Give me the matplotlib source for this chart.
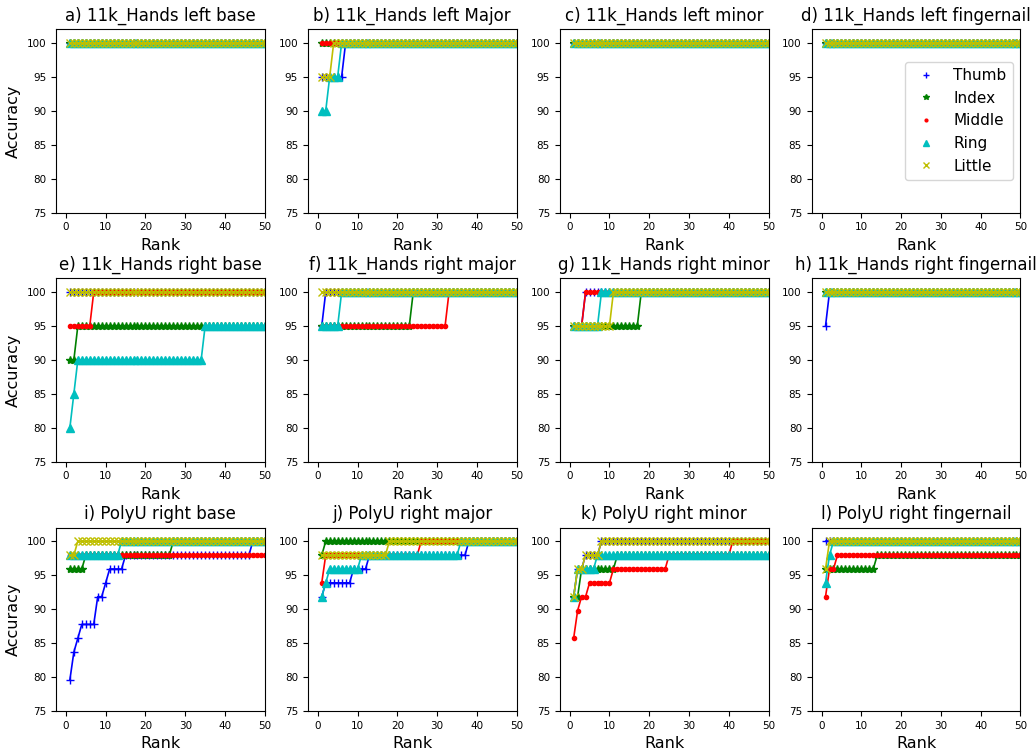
import matplotlib
matplotlib.use("Agg")
import matplotlib.pyplot as plt
from matplotlib.lines import Line2D

N = 50
ranks = list(range(1, N + 1))

fingers = ["Thumb", "Index", "Middle", "Ring", "Little"]
colors = ["b", "g", "r", "c", "y"]
markers = ["+", "*", ".", "^", "x"]

titles = ["a) 11k_Hands left base", "b) 11k_Hands left Major",
          "c) 11k_Hands left minor", "d) 11k_Hands left fingernail",
          "e) 11k_Hands right base", "f) 11k_Hands right major",
          "g) 11k_Hands right minor", "h) 11k_Hands right fingernail",
          "i) PolyU right base", "j) PolyU right major",
          "k) PolyU right minor", "l) PolyU right fingernail"]

# accuracy per rank, stored as (value, number of ranks) runs
flat = [(100, 50)]
panel_a = {"Thumb": flat, "Index": flat, "Middle": flat, "Ring": flat, "Little": flat}
panel_b = {"Thumb": [(95, 6), (100, 44)], "Index": flat, "Middle": flat,
           "Ring": [(90, 2), (95, 3), (100, 45)], "Little": [(95, 3), (100, 47)]}
panel_c = {"Thumb": flat, "Index": flat, "Middle": flat, "Ring": flat, "Little": flat}
panel_d = {"Thumb": flat, "Index": flat, "Middle": flat, "Ring": flat, "Little": flat}
panel_e = {"Thumb": flat, "Index": [(90, 2), (95, 48)], "Middle": [(95, 6), (100, 44)],
           "Ring": [(80, 1), (85, 1), (90, 32), (95, 16)], "Little": flat}
panel_f = {"Thumb": [(95, 1), (100, 49)], "Index": [(95, 23), (100, 27)],
           "Middle": [(95, 32), (100, 18)], "Ring": [(95, 5), (100, 45)], "Little": flat}
panel_g = {"Thumb": [(95, 3), (100, 47)], "Index": [(95, 17), (100, 33)],
           "Middle": [(95, 3), (100, 47)], "Ring": [(95, 7), (100, 43)],
           "Little": [(95, 10), (100, 40)]}
panel_h = {"Thumb": [(95, 1), (100, 49)], "Index": flat, "Middle": flat, "Ring": flat, "Little": flat}
panel_i = {"Thumb": [(79.59, 1), (83.67, 1), (85.71, 1), (87.76, 4), (91.84, 2),
                     (93.88, 1), (95.92, 4), (97.96, 32), (100, 4)],
           "Index": [(95.92, 4), (97.96, 22), (100, 24)],
           "Middle": [(97.96, 50)],
           "Ring": [(97.96, 13), (100, 37)],
           "Little": [(97.96, 2), (100, 48)]}
panel_j = {"Thumb": [(91.84, 1), (93.88, 7), (95.92, 4), (97.96, 25), (100, 13)],
           "Index": [(97.96, 1), (100, 49)],
           "Middle": [(93.88, 1), (97.96, 24), (100, 25)],
           "Ring": [(91.84, 1), (93.88, 1), (95.92, 8), (97.96, 25), (100, 15)],
           "Little": [(97.96, 17), (100, 33)]}
panel_k = {"Thumb": [(91.84, 1), (95.92, 2), (97.96, 4), (100, 43)],
           "Index": [(91.84, 2), (95.92, 9), (97.96, 39)],
           "Middle": [(85.71, 1), (89.80, 1), (91.84, 2), (93.88, 6), (95.92, 14),
                      (97.96, 16), (100, 10)],
           "Ring": [(91.84, 1), (95.92, 5), (97.96, 44)],
           "Little": [(91.84, 1), (95.92, 2), (97.96, 4), (100, 43)]}
panel_l = {"Thumb": flat,
           "Index": [(95.92, 13), (97.96, 37)],
           "Middle": [(91.84, 1), (95.92, 2), (97.96, 47)],
           "Ring": [(93.88, 1), (97.96, 1), (100, 48)],
           "Little": [(95.92, 1), (100, 49)]}

panels = [panel_a, panel_b, panel_c, panel_d, panel_e, panel_f,
          panel_g, panel_h, panel_i, panel_j, panel_k, panel_l]


def expand(runs):
    out = []
    for v, n in runs:
        out += [v] * n
    return out


fig, axes = plt.subplots(3, 4, figsize=(10.36, 7.5), dpi=100)
fig.subplots_adjust(left=0.054, right=0.985, top=0.961, bottom=0.052,
                    wspace=0.206, hspace=0.36)

for k, ax in enumerate(axes.flat):
    data = panels[k]
    for f, c, m in zip(fingers, colors, markers):
        ax.plot(ranks, expand(data[f]), color=c, marker=m, markersize=6,
                linewidth=1.2)
    ax.set_title(titles[k], fontsize=12)
    ax.set_xlabel("Rank", fontsize=11.5)
    if k % 4 == 0:
        ax.set_ylabel("Accuracy", fontsize=11.5)
    ax.set_xlim(-2.5, 50)
    ax.set_ylim(75, 102)
    ax.set_xticks(range(0, 51, 10))
    ax.set_yticks(range(75, 101, 5))
    ax.tick_params(labelsize=7.5)

handles = [Line2D([], [], color=c, marker=m, linestyle="none", markersize=4)
           for c, m in zip(colors, markers)]
axes[0, 3].legend(handles, fingers, loc="center right", fontsize=11)

fig.savefig("out.png")
